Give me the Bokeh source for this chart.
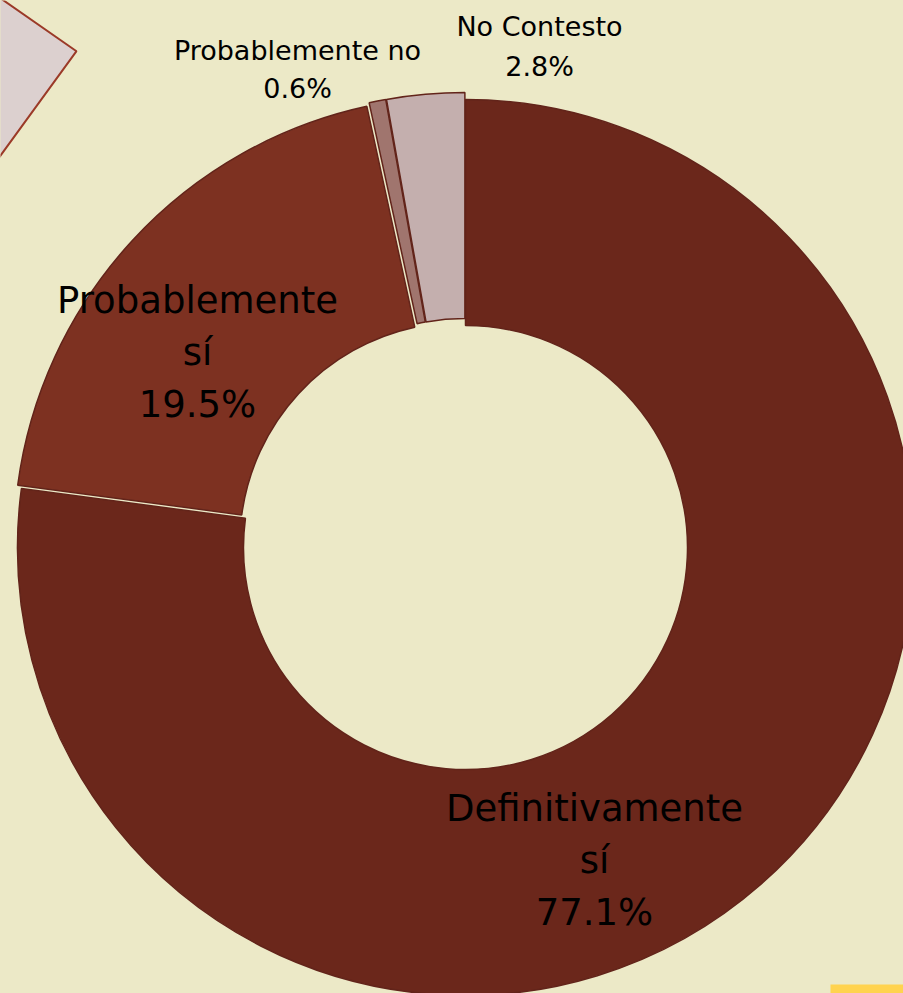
import math
from bokeh.plotting import figure
from bokeh.models import Range1d, ColumnDataSource
from bokeh.core.properties import value
from bokeh.embed import file_html
from bokeh.resources import INLINE

# ---------------- data ----------------
categories = ["Definitivamente sí", "Probablemente sí", "Probablemente no", "No Contesto"]
label_lines = [["Definitivamente", "sí"], ["Probablemente", "sí"], ["Probablemente no"], ["No Contesto"]]
percentages = [77.1, 19.5, 0.6, 2.8]

# ---------------- styles / layout ----------------
W, H = 903, 993
BG = "#ECE9C7"
colors = ["#6B271B", "#7D3121", "#A0756E", "#C4AFAE"]
outline = "#62241A"
explode = [0, 5, 7, 7]          # px offset of each slice along its bisector
cx, cy = 465, H - 547            # donut centre (data units = px, y up)
r_out, r_in = 448, 222
label_pos = [(594, 808), (197, 300), (297, 50), (539, 26)]   # screen px of first line centre
label_size = ["37px", "37px", "27px", "27px"]
line_gap = [52, 52, 38, 40]

p = figure(width=W, height=H, output_backend="svg", toolbar_location=None,
           x_range=Range1d(0, W), y_range=Range1d(0, H),
           min_border=0, background_fill_color=BG, border_fill_color=BG)
p.axis.visible = False
p.grid.visible = False
p.outline_line_color = None

# decoration: partial shape top-left
p.patch(x=[-60, 76, -40, -200], y=[H + 44, H - 50.7, H - 210, H - 50],
        fill_color="#DCD0CF", line_color="#9B3A28", line_width=2)
# decoration: yellow strip bottom-right
p.quad(left=[830], right=[903], bottom=[0], top=[H - 984], fill_color="#FFD34F", line_color=None)

# wedges
total = sum(percentages)
xs, ys, sa, ea = [], [], [], []
cum = 0.0
for pct, ex in zip(percentages, explode):
    a0 = math.pi / 2 - 2 * math.pi * cum / total
    cum += pct
    a1 = math.pi / 2 - 2 * math.pi * cum / total
    mid = (a0 + a1) / 2
    xs.append(cx + ex * math.cos(mid))
    ys.append(cy + ex * math.sin(mid))
    sa.append(a1)
    ea.append(a0)

src = ColumnDataSource(dict(x=xs, y=ys, start=sa, end=ea, color=colors, cat=categories))
p.annular_wedge(x="x", y="y", inner_radius=r_in, outer_radius=r_out,
                start_angle="start", end_angle="end", direction="anticlock",
                fill_color="color", line_color=outline, line_width=1.5, source=src)

# labels
for lines, pct, (lx, ly), fs, gap in zip(label_lines, percentages, label_pos, label_size, line_gap):
    all_lines = lines + [f"{pct:.1f}%"]
    tx = [lx] * len(all_lines)
    ty = [H - (ly + i * gap) for i in range(len(all_lines))]
    p.text(x=tx, y=ty, text=all_lines, text_align="center", text_baseline="middle",
           text_font=value("DejaVu Sans"), text_font_size=fs, text_color="#000000")

html = file_html(p, INLINE)
html = html.replace("</head>",
                    "<style>html,body{margin:0;padding:0;overflow:hidden;background:%s}</style></head>" % BG, 1)
open("out.html", "w").write(html)
